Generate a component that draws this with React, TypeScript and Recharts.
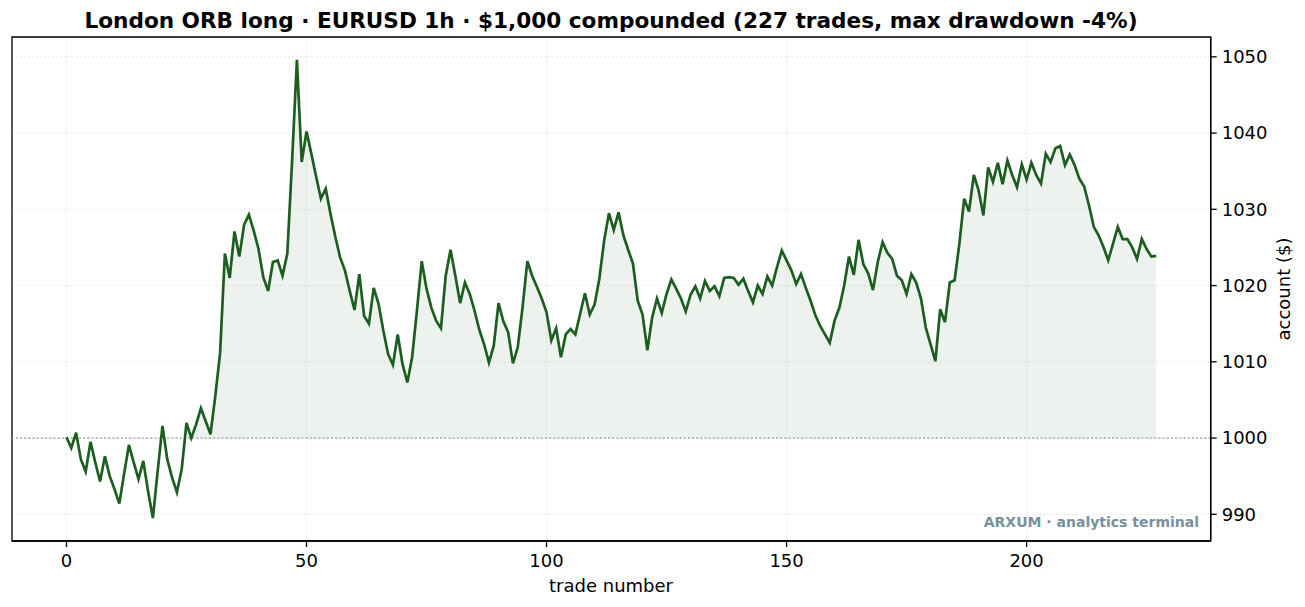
import {
  Area,
  CartesianGrid,
  ComposedChart,
  Line,
  ReferenceArea,
  ReferenceLine,
  XAxis,
  YAxis,
} from 'recharts'

// account balance after each trade
const equity = [
  1000.1, 998.7, 1000.7, 997.2, 995.6, 999.5, 996.8, 994.3, 997.6, 995.0,
  993.3, 991.4, 995.3, 999.1, 996.8, 994.6, 997.0, 993.0, 989.5, 995.7,
  1001.6, 997.2, 994.8, 992.9, 995.9, 1002.0, 1000.0, 1001.8, 1003.9, 1002.2,
  1000.5, 1005.5, 1011.2, 1024.2, 1021.0, 1027.1, 1023.8, 1028.0, 1029.3, 1027.2,
  1024.8, 1021.1, 1019.3, 1023.1, 1023.3, 1021.3, 1024.2, 1036.4, 1049.6, 1036.2,
  1040.2, 1037.3, 1034.3, 1031.4, 1032.7, 1029.4, 1026.4, 1023.7, 1022.0, 1019.3,
  1016.8, 1021.5, 1016.0, 1015.0, 1019.7, 1017.6, 1014.1, 1011.0, 1009.6, 1013.6,
  1009.7, 1007.3, 1010.6, 1016.7, 1023.2, 1019.6, 1017.1, 1015.4, 1014.4, 1021.3,
  1024.7, 1021.3, 1017.7, 1020.4, 1018.9, 1016.7, 1014.2, 1012.3, 1009.9, 1012.1,
  1017.7, 1015.3, 1013.9, 1009.8, 1011.9, 1017.1, 1023.2, 1021.3, 1019.8, 1018.3,
  1016.5, 1012.8, 1014.4, 1010.6, 1013.6, 1014.3, 1013.6, 1016.3, 1019.0, 1016.2,
  1017.5, 1020.9, 1025.9, 1029.5, 1027.3, 1029.6, 1026.6, 1024.7, 1022.9, 1018.0,
  1016.2, 1011.5, 1015.8, 1018.3, 1016.4, 1018.9, 1020.8, 1019.6, 1018.3, 1016.6,
  1018.8, 1019.9, 1018.3, 1020.6, 1019.3, 1019.9, 1018.6, 1021.0, 1021.1, 1021.0,
  1020.1, 1020.9, 1019.3, 1017.8, 1020.0, 1018.9, 1021.2, 1020.0, 1022.4, 1024.6,
  1023.3, 1022.0, 1020.2, 1021.5, 1019.7, 1018.0, 1016.1, 1014.7, 1013.6, 1012.5,
  1015.4, 1017.1, 1020.0, 1023.8, 1021.4, 1026.0, 1022.8, 1021.6, 1019.4, 1023.1,
  1025.7, 1024.3, 1023.5, 1021.3, 1020.7, 1018.9, 1021.5, 1020.4, 1018.3, 1014.5,
  1012.3, 1010.1, 1016.9, 1015.2, 1020.4, 1020.7, 1025.5, 1031.4, 1029.7, 1034.5,
  1032.5, 1029.2, 1035.5, 1033.6, 1036.1, 1033.3, 1036.4, 1034.5, 1032.9, 1035.9,
  1033.9, 1036.1, 1034.5, 1033.4, 1037.3, 1036.2, 1038.0, 1038.3, 1035.8, 1037.2,
  1035.8, 1034.0, 1033.0, 1030.5, 1027.7, 1026.6, 1025.1, 1023.3, 1025.5, 1027.7,
  1026.1, 1026.1, 1025.0, 1023.5, 1026.1, 1024.8, 1023.8, 1023.9,
]

const startBalance = 1000
const xTicks = [0, 50, 100, 150, 200]
const yTicks = [990, 1000, 1010, 1020, 1030, 1040, 1050]
const xDomain = [-11.35, 238.35]
const yDomain = [986.5, 1052.6]

const title =
  'London ORB long · EURUSD 1h · $1,000 compounded (227 trades, max drawdown -4%)'

// fill only where the account sits above the starting balance
const data = equity.map((value, trade) => ({
  trade,
  value,
  gain: value >= startBalance ? [startBalance, value] : null,
}))

const font = 'DejaVu Sans, sans-serif'
const tickStyle = { fill: '#000', fontSize: 18, fontFamily: font }

export default function App() {
  return (
    <div style={{ position: 'absolute', left: 0, top: 0, width: 1305, height: 607, background: '#fff' }}>
      <ComposedChart
        width={1305}
        height={607}
        data={data}
        margin={{ top: 37, right: 14.3, bottom: 36, left: 12 }}
      >
        <CartesianGrid stroke="#e2e2e2" strokeDasharray="1.5 2.5" strokeWidth={1} />
        <XAxis
          dataKey="trade"
          type="number"
          domain={xDomain}
          ticks={xTicks}
          allowDataOverflow
          height={30}
          tickSize={6}
          tickMargin={7}
          axisLine={{ stroke: '#000', strokeWidth: 1.3 }}
          tickLine={{ stroke: '#000', strokeWidth: 1.3 }}
          tick={tickStyle}
        />
        <YAxis
          orientation="right"
          type="number"
          domain={yDomain}
          ticks={yTicks}
          allowDataOverflow
          width={80}
          tickSize={6}
          tickMargin={5}
          axisLine={{ stroke: '#000', strokeWidth: 1.3 }}
          tickLine={{ stroke: '#000', strokeWidth: 1.3 }}
          tick={tickStyle}
        />
        <Area
          dataKey="gain"
          type="linear"
          stroke="none"
          fill="#1b5e20"
          fillOpacity={0.08}
          connectNulls={false}
          isAnimationActive={false}
        />
        <ReferenceLine y={startBalance} stroke="#999" strokeDasharray="2 2.2" strokeWidth={1.3} />
        <Line
          dataKey="value"
          type="linear"
          stroke="#1b5e20"
          strokeWidth={2.7}
          dot={false}
          activeDot={false}
          isAnimationActive={false}
        />
        <ReferenceArea
          x1={xDomain[0]}
          x2={xDomain[1]}
          y1={yDomain[0]}
          y2={yDomain[1]}
          fill="none"
          stroke="#000"
          strokeWidth={1.3}
          ifOverflow="visible"
        />
      </ComposedChart>
      <svg
        width={1305}
        height={607}
        style={{ position: 'absolute', left: 0, top: 0, pointerEvents: 'none' }}
      >
        <text x={611} y={28} textAnchor="middle" fontFamily={font} fontWeight="bold" fontSize={21.6} fill="#000">
          {title}
        </text>
        <text x={611} y={592} textAnchor="middle" fontFamily={font} fontSize={18} fill="#000">
          trade number
        </text>
        <text
          x={1290}
          y={289}
          textAnchor="middle"
          fontFamily={font}
          fontSize={18}
          fill="#000"
          transform="rotate(-90 1290 289)"
        >
          account ($)
        </text>
        <text x={1199} y={527} textAnchor="end" fontFamily={font} fontWeight="bold" fontSize={14} fill="#78909c">
          ARXUM · analytics terminal
        </text>
      </svg>
    </div>
  )
}
